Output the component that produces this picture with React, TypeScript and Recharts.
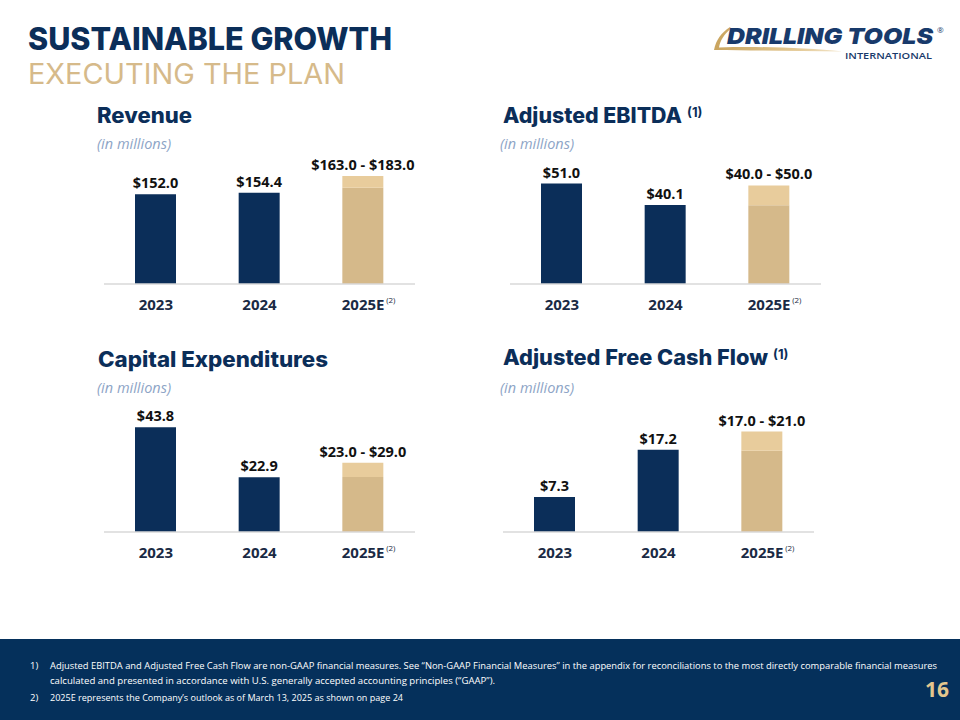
import React from 'react';
import { BarChart, Bar, XAxis, YAxis, LabelList } from 'recharts';

// ---- data ----
const years = ['2023', '2024', '2025E'];
const revenueActual = [152.0, 154.4];
const revenueOutlook = [163.0, 183.0];
const ebitdaActual = [51.0, 40.1];
const ebitdaOutlook = [40.0, 50.0];
const capexActual = [43.8, 22.9];
const capexOutlook = [23.0, 29.0];
const fcfActual = [7.3, 17.2];
const fcfOutlook = [17.0, 21.0];

const footnotes = [
  'Adjusted EBITDA and Adjusted Free Cash Flow are non-GAAP financial measures. See \u201CNon-GAAP Financial Measures\u201D in the appendix for reconciliations to the most directly comparable financial measures',
  'calculated and presented in accordance with U.S. generally accepted accounting principles (\u201CGAAP\u201D).',
  '2025E represents the Company\u2019s outlook as of March 13, 2025 as shown on page 24',
];

// ---- styles ----
const NAVY = '#0B2E59';
const TAN = '#D5B98A';
const TAN_LIGHT = '#E8CC9C';
const GOLD = '#D6BA8A';
const TITLE_FONT = 'Inter, "Noto Sans", sans-serif';
const BODY_FONT = '"Open Sans", "Noto Sans", sans-serif';

function buildRows(actual: number[], outlook: number[]) {
  return years.map((year, i) => ({
    year,
    actual: i < actual.length ? actual[i] : 0,
    low: i === years.length - 1 ? outlook[0] : 0,
    range: i === years.length - 1 ? outlook[1] - outlook[0] : 0,
  }));
}

const fmt = (v: number) => `$${v.toFixed(1)}`;

function getBox(p: any) {
  const vb = p.viewBox || {};
  const x = Number(p.x ?? vb.x);
  const y = Number(p.y ?? vb.y);
  const width = Number(p.width ?? vb.width);
  return { x, y, width };
}

const YearTick = (props: any) => {
  const { x, y, payload } = props;
  const isEst = String(payload.value).endsWith('E');
  return (
    <g>
      <text
        x={x}
        y={y + 26}
        textAnchor="middle"
        fontFamily={BODY_FONT}
        fontWeight={700}
        fontSize={15}
        fill="#1A2A44"
      >
        {payload.value}
      </text>
      {isEst && (
        <text x={x + 23} y={y + 19} fontFamily={BODY_FONT} fontSize={8} fill="#1A2A44">
          (2)
        </text>
      )}
    </g>
  );
};

function MetricChart({
  actual,
  outlook,
  domainMax,
  left,
  top,
  height,
}: {
  actual: number[];
  outlook: number[];
  domainMax: number;
  left: number;
  top: number;
  height: number;
}) {
  const rows = buildRows(actual, outlook);
  const actualLabel = (p: any) => {
    const v = Number(p.value);
    if (!v) return null;
    const { x, y, width } = getBox(p);
    return (
      <text x={x + width / 2} y={y - 6} textAnchor="middle" fontFamily={BODY_FONT} fontWeight={700} fontSize={14.5} fill="#111">
        {fmt(v)}
      </text>
    );
  };
  const rangeLabel = (p: any) => {
    const v = Number(p.value);
    if (!v) return null;
    const { x, y, width } = getBox(p);
    return (
      <text x={x + width / 2} y={y - 6} textAnchor="middle" fontFamily={BODY_FONT} fontWeight={700} fontSize={14.5} fill="#111">
        {`${fmt(outlook[0])} - ${fmt(outlook[1])}`}
      </text>
    );
  };
  return (
    <div style={{ position: 'absolute', left, top }}>
      <BarChart width={331} height={height} data={rows} margin={{ top: 10, right: 10, left: 10, bottom: 0 }}>
        <XAxis
          dataKey="year"
          axisLine={{ stroke: '#D9D9D9', strokeWidth: 1.5 }}
          tickLine={false}
          tickSize={0}
          tickMargin={0}
          interval={0}
          height={36}
          tick={<YearTick />}
        />
        <YAxis hide type="number" domain={[0, domainMax]} />
        <Bar dataKey="actual" stackId="s" fill={NAVY} barSize={41} isAnimationActive={false}>
          <LabelList dataKey="actual" content={actualLabel} />
        </Bar>
        <Bar dataKey="low" stackId="s" fill={TAN} barSize={41} isAnimationActive={false} />
        <Bar dataKey="range" stackId="s" fill={TAN_LIGHT} barSize={41} isAnimationActive={false}>
          <LabelList dataKey="range" content={rangeLabel} />
        </Bar>
      </BarChart>
    </div>
  );
}

function SectionTitle({ x, y, text, len, note }: { x: number; y: number; text: string; len: number; note?: boolean }) {
  return (
    <g>
      <text x={x} y={y} fontFamily={TITLE_FONT} fontWeight={800} fontSize={21} fill={NAVY} textLength={len} lengthAdjust="spacingAndGlyphs">
        {text}
      </text>
      {note && (
        <text x={x + len + 5} y={y - 6} fontFamily={TITLE_FONT} fontWeight={700} fontSize={13} fill={NAVY}>
          (1)
        </text>
      )}
    </g>
  );
}

function Units({ x, y }: { x: number; y: number }) {
  return (
    <text x={x} y={y} fontFamily={BODY_FONT} fontStyle="italic" fontSize={14} fill="#8DA4C6" textLength={74} lengthAdjust="spacingAndGlyphs">
      (in millions)
    </text>
  );
}

export default function App() {
  return (
    <div style={{ position: 'absolute', left: 0, top: 0, width: 960, height: 720, background: '#fff', overflow: 'hidden' }}>
      <svg width={960} height={720} style={{ position: 'absolute', left: 0, top: 0 }}>
        <defs>
          <linearGradient id="swoosh" x1="0" x2="1" y1="0" y2="0">
            <stop offset="0" stopColor="#C9A45E" />
            <stop offset="0.6" stopColor="#E2C68F" />
            <stop offset="1" stopColor="#F3E6CC" />
          </linearGradient>
        </defs>
        {/* header */}
        <text x={28} y={50} fontFamily={TITLE_FONT} fontWeight={800} fontSize={31} fill={NAVY} textLength={364} lengthAdjust="spacingAndGlyphs">
          SUSTAINABLE GROWTH
        </text>
        <text x={28} y={83.5} fontFamily={TITLE_FONT} fontWeight={400} fontSize={28} fill={GOLD} textLength={317} lengthAdjust="spacingAndGlyphs">
          EXECUTING THE PLAN
        </text>
        {/* logo */}
        <path
          d="M714 50 C716 40 721 33 730 27 L731 28.5 C724 34 720 41 719 47.5 C760 46 805 48 843 51.5 C800 51 755 50.5 714 50 Z"
          fill="url(#swoosh)"
        />
        <text x={727} y={43.5} fontFamily={TITLE_FONT} fontWeight={900} fontStyle="italic" fontSize={22} fill="#183A6B" textLength={206} lengthAdjust="spacingAndGlyphs">
          DRILLING TOOLS
        </text>
        <text x={937} y={33} fontFamily={BODY_FONT} fontSize={8} fill="#183A6B">
          ®
        </text>
        <text x={845} y={59} fontFamily={BODY_FONT} fontWeight={600} fontSize={9} fill="#183A6B" textLength={87} lengthAdjust="spacingAndGlyphs">
          INTERNATIONAL
        </text>
        {/* section titles */}
        <SectionTitle x={97} y={123} text="Revenue" len={95} />
        <SectionTitle x={503} y={123} text="Adjusted EBITDA" len={179} note />
        <SectionTitle x={98} y={367} text="Capital Expenditures" len={230} />
        <SectionTitle x={503} y={365} text="Adjusted Free Cash Flow" len={265} note />
        <Units x={97} y={149} />
        <Units x={500} y={149} />
        <Units x={97} y={393} />
        <Units x={500} y={393} />
        {/* footer */}
        <rect x={0} y={639} width={960} height={81} fill="#05305B" />
        <text x={30} y={669} fontFamily={BODY_FONT} fontSize={9.5} fill="#fff">1)</text>
        <text x={50} y={669} fontFamily={BODY_FONT} fontSize={8.6} fill="#fff" textLength={887} lengthAdjust="spacingAndGlyphs">
          {footnotes[0]}
        </text>
        <text x={50} y={684} fontFamily={BODY_FONT} fontSize={8.6} fill="#fff" textLength={445} lengthAdjust="spacingAndGlyphs">
          {footnotes[1]}
        </text>
        <text x={30} y={701} fontFamily={BODY_FONT} fontSize={9.5} fill="#fff">2)</text>
        <text x={50} y={701} fontFamily={BODY_FONT} fontSize={8.6} fill="#fff" textLength={353} lengthAdjust="spacingAndGlyphs">
          {footnotes[2]}
        </text>
        <text x={925} y={697} fontFamily={BODY_FONT} fontWeight={700} fontSize={21} fill="#E3C68E">16</text>
      </svg>
      <MetricChart actual={revenueActual} outlook={revenueOutlook} domainMax={227} left={94} top={140} height={180} />
      <MetricChart actual={ebitdaActual} outlook={ebitdaOutlook} domainMax={68} left={500} top={140} height={180} />
      <MetricChart actual={capexActual} outlook={capexOutlook} domainMax={55.2} left={94} top={390} height={178} />
      <MetricChart actual={fcfActual} outlook={fcfOutlook} domainMax={27.6} left={493} top={390} height={178} />
    </div>
  );
}
